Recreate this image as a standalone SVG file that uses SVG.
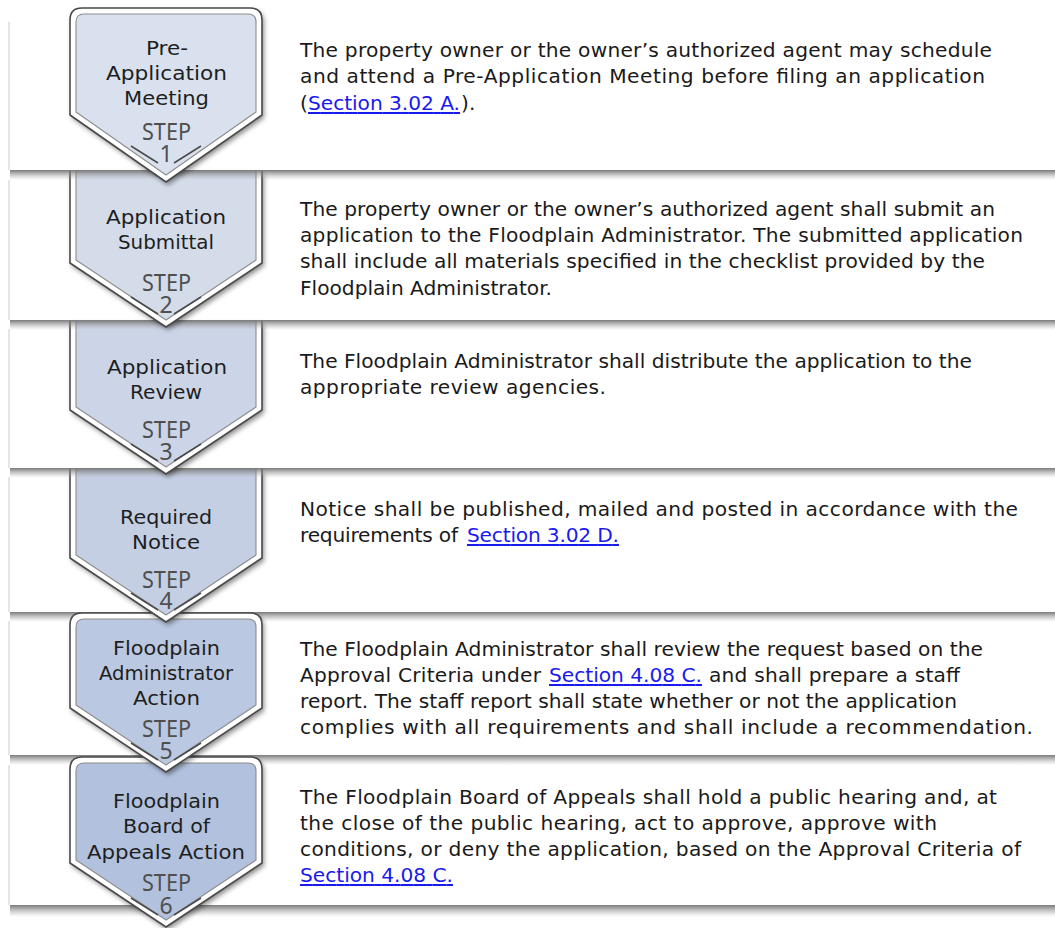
<svg xmlns="http://www.w3.org/2000/svg" width="1055" height="928" viewBox="0 0 1055 928">
<style>
.panel{fill:#ffffff}
.edge{stroke:#d4d4d4;stroke-width:1.2}
.sh{fill:url(#shg)}
.ow{fill:#ffffff}
.os{fill:none;stroke:#4a4a4a;stroke-width:1.6;stroke-linejoin:round}
.is{fill:none;stroke:#8c8c8c;stroke-width:1.1;stroke-linejoin:round}
.tt{font-family:"DejaVu Sans","Liberation Sans",sans-serif;font-size:20px;fill:#1e1e1e}
.st{font-family:"Noto Sans","Liberation Sans",sans-serif;font-size:23px;fill:#4f4f4f}
.vl{stroke:#4a4a4a;stroke-width:1.5;fill:none}
.bt{font-family:"DejaVu Sans","Liberation Sans",sans-serif;font-size:20.2px;fill:#1a1a1a}
.lk{font-family:"DejaVu Sans","Liberation Sans",sans-serif;font-size:20.2px;fill:#1a1aee;text-decoration:underline}
</style>
<defs>
<linearGradient id="shg" x1="0" y1="0" x2="0" y2="1">
<stop offset="0" stop-color="#6a6a6a" stop-opacity="0.9"/>
<stop offset="0.5" stop-color="#8a8a8a" stop-opacity="0.45"/>
<stop offset="1" stop-color="#aaaaaa" stop-opacity="0"/>
</linearGradient>
<filter id="ds" x="-10%" y="-10%" width="130%" height="130%">
<feDropShadow dx="2" dy="3" stdDeviation="2.5" flood-color="#000000" flood-opacity="0.45"/>
</filter>
</defs>
<rect width="1055" height="928" fill="#ffffff"/>

<g id="panels">
<rect class="panel" x="9" y="22" width="1046" height="148"/>
<rect class="panel" x="9" y="180" width="1046" height="140"/>
<rect class="panel" x="9" y="329" width="1046" height="139"/>
<rect class="panel" x="9" y="477" width="1046" height="135"/>
<rect class="panel" x="9" y="621" width="1046" height="134"/>
<rect class="panel" x="9" y="765" width="1046" height="140"/>
<line class="edge" x1="9" y1="22" x2="9" y2="170"/>
<line class="edge" x1="9" y1="180" x2="9" y2="320"/>
<line class="edge" x1="9" y1="329" x2="9" y2="468"/>
<line class="edge" x1="9" y1="477" x2="9" y2="612"/>
<line class="edge" x1="9" y1="621" x2="9" y2="755"/>
<line class="edge" x1="9" y1="765" x2="9" y2="905"/>
</g>

<g id="shadows-lower">
<rect class="sh" x="10" y="612" width="1045" height="10"/>
<rect class="sh" x="10" y="755" width="1045" height="10"/>
<rect class="sh" x="10" y="905" width="1045" height="12"/>
</g>

<g id="connectors"></g>

<g id="step-6">
<path class="ow" filter="url(#ds)" d="M82,757 H250 Q262,757 262,769 V863 L166,927 L70,863 V769 Q70,757 82,757 Z"/>
<path class="os" d="M82,757 H250 Q262,757 262,769 V863 L166,927 L70,863 V769 Q70,757 82,757 Z"/>
<path class="is" style="fill:#b2c2de" d="M84,763 H248 Q256,763 256,771 V860 L166,920 L76,860 V771 Q76,763 84,763 Z"/>
<text class="tt" x="113" y="808" textLength="107" lengthAdjust="spacingAndGlyphs">Floodplain</text>
<text class="tt" x="123" y="833" textLength="87" lengthAdjust="spacingAndGlyphs">Board of</text>
<text class="tt" x="87" y="859" textLength="158" lengthAdjust="spacingAndGlyphs">Appeals Action</text>
<text class="st" x="142" y="891" textLength="49" lengthAdjust="spacingAndGlyphs">STEP</text>
<text class="st" x="166" y="914" text-anchor="middle">6</text>
<path class="vl" d="M131,898 L158,915 M174,915 L201,898"/>
</g>

<g id="step-5">
<path class="ow" filter="url(#ds)" d="M82,613 H250 Q262,613 262,625 V708 L166,772 L70,708 V625 Q70,613 82,613 Z"/>
<path class="os" d="M82,613 H250 Q262,613 262,625 V708 L166,772 L70,708 V625 Q70,613 82,613 Z"/>
<path class="is" style="fill:#bbc8e1" d="M84,619 H248 Q256,619 256,627 V705 L166,765 L76,705 V627 Q76,619 84,619 Z"/>
<text class="tt" x="113" y="655" textLength="107" lengthAdjust="spacingAndGlyphs">Floodplain</text>
<text class="tt" x="99" y="680" textLength="134" lengthAdjust="spacingAndGlyphs">Administrator</text>
<text class="tt" x="133" y="705" textLength="67" lengthAdjust="spacingAndGlyphs">Action</text>
<text class="st" x="142" y="737" textLength="49" lengthAdjust="spacingAndGlyphs">STEP</text>
<text class="st" x="166" y="759" text-anchor="middle">5</text>
<path class="vl" d="M131,743 L158,760 M174,760 L201,743"/>
</g>

<g id="step-4">
<path class="ow" filter="url(#ds)" d="M70,469 H262 V558 L166,622 L70,558 Z"/>
<path class="os" d="M70,469 V558 L166,622 L262,558 V469"/>
<path style="fill:#c4cfe4" d="M76,469 H256 V555 L166,615 L76,555 Z"/>
<path class="is" d="M76,469 V555 L166,615 L256,555 V469"/>
<text class="tt" x="120" y="524" textLength="92" lengthAdjust="spacingAndGlyphs">Required</text>
<text class="tt" x="132" y="549" textLength="68" lengthAdjust="spacingAndGlyphs">Notice</text>
<text class="st" x="142" y="588" textLength="49" lengthAdjust="spacingAndGlyphs">STEP</text>
<text class="st" x="166" y="609" text-anchor="middle">4</text>
<path class="vl" d="M131,593 L158,610 M174,610 L201,593"/>
</g>

<rect class="sh" x="10" y="468" width="1045" height="10"/>

<g id="step-3">
<path class="ow" filter="url(#ds)" d="M70,321 H262 V410 L166,474 L70,410 Z"/>
<path class="os" d="M70,321 V410 L166,474 L262,410 V321"/>
<path style="fill:#ccd5e7" d="M76,321 H256 V407 L166,467 L76,407 Z"/>
<path class="is" d="M76,321 V407 L166,467 L256,407 V321"/>
<text class="tt" x="107" y="374" textLength="120" lengthAdjust="spacingAndGlyphs">Application</text>
<text class="tt" x="130" y="399" textLength="72" lengthAdjust="spacingAndGlyphs">Review</text>
<text class="st" x="142" y="438" textLength="49" lengthAdjust="spacingAndGlyphs">STEP</text>
<text class="st" x="166" y="460" text-anchor="middle">3</text>
<path class="vl" d="M131,444 L158,461 M174,461 L201,444"/>
</g>

<rect class="sh" x="10" y="320" width="1045" height="10"/>

<g id="step-2">
<path class="ow" filter="url(#ds)" d="M70,171 H262 V263 L166,327 L70,263 Z"/>
<path class="os" d="M70,171 V263 L166,327 L262,263 V171"/>
<path style="fill:#d4dcea" d="M76,171 H256 V260 L166,320 L76,260 Z"/>
<path class="is" d="M76,171 V260 L166,320 L256,260 V171"/>
<text class="tt" x="106" y="224" textLength="120" lengthAdjust="spacingAndGlyphs">Application</text>
<text class="tt" x="118" y="249" textLength="96" lengthAdjust="spacingAndGlyphs">Submittal</text>
<text class="st" x="142" y="291" textLength="49" lengthAdjust="spacingAndGlyphs">STEP</text>
<text class="st" x="166" y="313" text-anchor="middle">2</text>
<path class="vl" d="M131,297 L158,314 M174,314 L201,297"/>
</g>

<rect class="sh" x="10" y="170" width="1045" height="10"/>

<g id="step-1">
<path class="ow" filter="url(#ds)" d="M82,8 H250 Q262,8 262,20 V115 L166,182 L70,115 V20 Q70,8 82,8 Z"/>
<path class="os" d="M82,8 H250 Q262,8 262,20 V115 L166,182 L70,115 V20 Q70,8 82,8 Z"/>
<path class="is" style="fill:#dae1ee" d="M84,14 H248 Q256,14 256,22 V112 L166,175 L76,112 V22 Q76,14 84,14 Z"/>
<text class="tt" x="146" y="55" textLength="42" lengthAdjust="spacingAndGlyphs">Pre-</text>
<text class="tt" x="106" y="80" textLength="121" lengthAdjust="spacingAndGlyphs">Application</text>
<text class="tt" x="124" y="105" textLength="85" lengthAdjust="spacingAndGlyphs">Meeting</text>
<text class="st" x="142" y="140" textLength="49" lengthAdjust="spacingAndGlyphs">STEP</text>
<text class="st" x="166" y="162" text-anchor="middle">1</text>
<path class="vl" d="M131,146 L158,163 M174,163 L201,146"/>
</g>

<g id="text-1">
<text class="bt" x="300" y="57" textLength="692" lengthAdjust="spacing">The property owner or the owner’s authorized agent may schedule</text>
<text class="bt" x="300" y="83" textLength="685" lengthAdjust="spacing">and attend a Pre-Application Meeting before filing an application</text>
<text class="bt" x="300" y="110">(</text>
<text class="lk" x="308" y="110" textLength="152" lengthAdjust="spacing">Section 3.02 A.</text>
<text class="bt" x="461" y="110">).</text>
</g>

<g id="text-2">
<text class="bt" x="300" y="216" textLength="695" lengthAdjust="spacing">The property owner or the owner’s authorized agent shall submit an</text>
<text class="bt" x="300" y="242" textLength="723" lengthAdjust="spacing">application to the Floodplain Administrator. The submitted application</text>
<text class="bt" x="300" y="268" textLength="685" lengthAdjust="spacing">shall include all materials specified in the checklist provided by the</text>
<text class="bt" x="300" y="295" textLength="252" lengthAdjust="spacing">Floodplain Administrator.</text>
</g>

<g id="text-3">
<text class="bt" x="300" y="368" textLength="672" lengthAdjust="spacing">The Floodplain Administrator shall distribute the application to the</text>
<text class="bt" x="300" y="394" textLength="306" lengthAdjust="spacing">appropriate review agencies.</text>
</g>

<g id="text-4">
<text class="bt" x="300" y="516" textLength="718" lengthAdjust="spacing">Notice shall be published, mailed and posted in accordance with the</text>
<text class="bt" x="300" y="542" textLength="158" lengthAdjust="spacing">requirements of</text>
<text class="lk" x="467" y="542" textLength="152" lengthAdjust="spacing">Section 3.02 D.</text>
</g>

<g id="text-5">
<text class="bt" x="300" y="656" textLength="683" lengthAdjust="spacing">The Floodplain Administrator shall review the request based on the</text>
<text class="bt" x="300" y="682" textLength="241" lengthAdjust="spacing">Approval Criteria under</text>
<text class="lk" x="549" y="682" textLength="153" lengthAdjust="spacing">Section 4.08 C.</text>
<text class="bt" x="709" y="682" textLength="251" lengthAdjust="spacing">and shall prepare a staff</text>
<text class="bt" x="300" y="708" textLength="657" lengthAdjust="spacing">report. The staff report shall state whether or not the application</text>
<text class="bt" x="300" y="734" textLength="733" lengthAdjust="spacing">complies with all requirements and shall include a recommendation.</text>
</g>

<g id="text-6">
<text class="bt" x="300" y="804" textLength="697" lengthAdjust="spacing">The Floodplain Board of Appeals shall hold a public hearing and, at</text>
<text class="bt" x="300" y="830" textLength="637" lengthAdjust="spacing">the close of the public hearing, act to approve, approve with</text>
<text class="bt" x="300" y="856" textLength="721" lengthAdjust="spacing">conditions, or deny the application, based on the Approval Criteria of</text>
<text class="lk" x="300" y="882" textLength="153" lengthAdjust="spacing">Section 4.08 C.</text>
</g>
</svg>
